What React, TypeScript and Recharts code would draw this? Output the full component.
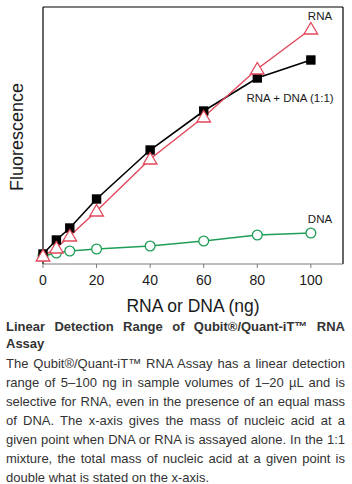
import React from 'react';
import { LineChart, Line, XAxis, YAxis, ReferenceLine } from 'recharts';

// nucleic acid mass (ng)
const amounts = [0, 5, 10, 20, 40, 60, 80, 100];
// fluorescence, arbitrary units
const rnaValues = [8, 16, 28, 53, 105, 147, 195, 235];
const mixValues = [10, 24, 36, 65, 114, 153, 186, 204];
const dnaValues = [8, 11, 13, 15, 18, 23, 29, 31];
const xTicks = [0, 20, 40, 60, 80, 100];

const RED = '#e2475a';
const GREEN = '#1f9e57';
const FONT = '"Liberation Sans", Arial, Helvetica, sans-serif';

const data = amounts.map((x, i) => ({
  x,
  rna: rnaValues[i],
  mix: mixValues[i],
  dna: dnaValues[i],
}));

const TriangleDot = (props: any) => {
  const { cx, cy } = props;
  if (cx == null || cy == null) return null;
  return (
    <path
      d={`M${cx},${cy - 6.5} L${cx + 6.8},${cy + 5} L${cx - 6.8},${cy + 5} Z`}
      fill="#fff"
      stroke={RED}
      strokeWidth={1.3}
    />
  );
};

const SquareDot = (props: any) => {
  const { cx, cy } = props;
  if (cx == null || cy == null) return null;
  return <rect x={cx - 4.7} y={cy - 4.7} width={9.4} height={9.4} fill="#000" />;
};

const CircleDot = (props: any) => {
  const { cx, cy } = props;
  if (cx == null || cy == null) return null;
  return <circle cx={cx} cy={cy} r={4.9} fill="#fff" stroke={GREEN} strokeWidth={1.3} />;
};

const YLabel = () => (
  <text
    x={0}
    y={0}
    transform="translate(23,137) rotate(-90)"
    textAnchor="middle"
    fontSize={18}
    fontFamily={FONT}
    fill="#1a1a1a"
  >
    Fluorescence
  </text>
);

const XLabel = (props: any) => {
  const vb = props.viewBox || {};
  return (
    <text
      x={(vb.x || 43) + (vb.width || 300) / 2}
      y={312}
      textAnchor="middle"
      fontSize={17.5}
      fontFamily={FONT}
      fill="#1a1a1a"
    >
      RNA or DNA (ng)
    </text>
  );
};

const seriesLabel: React.CSSProperties = {
  position: 'absolute',
  fontFamily: FONT,
  fontSize: 11.5,
  color: '#1a1a1a',
  whiteSpace: 'nowrap',
  transform: 'translate(-50%, -50%)',
  lineHeight: 1,
};

const titleLines = [
  'Linear Detection Range of Qubit®/Quant-iT™ RNA',
  'Assay',
];
const bodyLines = [
  'The Qubit®/Quant-iT™ RNA Assay has a linear detection',
  'range of 5–100 ng in sample volumes of 1–20 µL and is',
  'selective for RNA, even in the presence of an equal mass',
  'of DNA. The x-axis gives the mass of nucleic acid at a',
  'given point when DNA or RNA is assayed alone. In the 1:1',
  'mixture, the total mass of nucleic acid at a given point is',
  'double what is stated on the x-axis.',
];

const lineStyle = (last: boolean): React.CSSProperties => ({
  textAlign: last ? 'left' : 'justify',
  textAlignLast: last ? 'left' : 'justify',
  whiteSpace: 'nowrap',
});

export default function App() {
  return (
    <div style={{ position: 'absolute', left: 0, top: 0, width: 352, height: 484, background: '#fff', overflow: 'hidden' }}>
      <LineChart width={352} height={316} data={data} margin={{ top: 7, right: 9, left: 0, bottom: 0 }}>
        <XAxis
          dataKey="x"
          type="number"
          domain={[0, 112]}
          ticks={xTicks}
          height={52}
          stroke="#7a7a7a"
          tickSize={4}
          tickMargin={7}
          tick={{ fontSize: 14, fontFamily: FONT, fill: '#1a1a1a' }}
          label={<XLabel />}
        />
        <YAxis
          type="number"
          domain={[0, 257]}
          width={43}
          tick={false}
          tickLine={false}
          axisLine={{ stroke: '#000', strokeWidth: 1.2 }}
          label={<YLabel />}
        />
        <ReferenceLine y={257} stroke="#000" strokeWidth={1.2} />
        <ReferenceLine x={112} stroke="#000" strokeWidth={1.2} />
        <Line dataKey="dna" stroke={GREEN} strokeWidth={1.4} dot={<CircleDot />} isAnimationActive={false} />
        <Line dataKey="mix" stroke="#000" strokeWidth={1.6} dot={<SquareDot />} isAnimationActive={false} />
        <Line dataKey="rna" stroke={RED} strokeWidth={1.4} dot={<TriangleDot />} isAnimationActive={false} />
      </LineChart>

      <div style={{ ...seriesLabel, left: 320, top: 17 }}>RNA</div>
      <div style={{ ...seriesLabel, left: 290, top: 99 }}>RNA + DNA (1:1)</div>
      <div style={{ ...seriesLabel, left: 320, top: 220 }}>DNA</div>

      <div style={{ position: 'absolute', left: 6, top: 318, width: 339, fontFamily: FONT, color: '#333' }}>
        <div style={{ fontWeight: 'bold', fontSize: 13, lineHeight: '17px' }}>
          {titleLines.map((t, i) => (
            <div key={i} style={lineStyle(i === titleLines.length - 1)}>{t}</div>
          ))}
        </div>
        <div style={{ fontSize: 13, lineHeight: '19px', marginTop: 2 }}>
          {bodyLines.map((t, i) => (
            <div key={i} style={lineStyle(i === bodyLines.length - 1)}>{t}</div>
          ))}
        </div>
      </div>
    </div>
  );
}
